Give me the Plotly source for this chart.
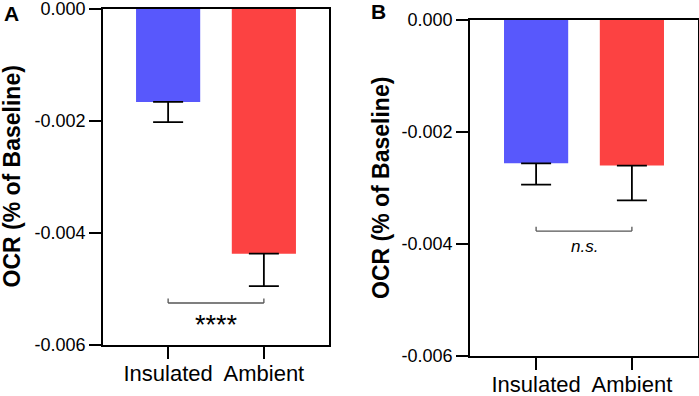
import plotly.graph_objects as go

# ---- data ----
categories = ["Insulated", "Ambient"]
a_means = [-0.00166, -0.00437]
a_sem = [0.00036, 0.00058]
b_means = [-0.00256, -0.00260]
b_sem = [0.00038, 0.00062]
bar_colors = ["#5858FC", "#FC4242"]
y_tickvals = [0.0, -0.002, -0.004, -0.006]
y_ticktext = [f"{v:.3f}" for v in y_tickvals]
sig_a = {"y": -0.00525, "label": "****"}
sig_b = {"y": -0.00377, "label": "<i>n.s.</i>"}

W, H = 699, 396
FONT = "Liberation Sans, Arial, sans-serif"

def px_x(p):
    return p / W

def px_y(p):
    return 1 - p / H

fig = go.Figure()

for i, (means, sem) in enumerate([(a_means, a_sem), (b_means, b_sem)]):
    sfx = "" if i == 0 else "2"
    fig.add_trace(go.Bar(
        x=categories, y=means,
        marker=dict(color=bar_colors, line=dict(width=0)),
        width=0.67,
        error_y=dict(type="data", symmetric=False, array=[0, 0], arrayminus=sem,
                     color="black", thickness=1.8, width=15),
        xaxis="x" + sfx, yaxis="y" + sfx, showlegend=False,
        hoverinfo="skip",
    ))

axis_common = dict(showline=True, linecolor="black", linewidth=1.8, mirror=True,
                   showgrid=False, zeroline=False, ticks="outside",
                   tickcolor="black", tickwidth=1.8, ticklen=12, automargin=False,
                   ticklabeloverflow="allow")

fig.update_layout(
    width=W, height=H, margin=dict(l=0, r=0, t=0, b=0, autoexpand=False),
    paper_bgcolor="white", plot_bgcolor="white",
    font=dict(family=FONT, color="black"),
    bargap=0.33,
    xaxis=dict(domain=[px_x(103), px_x(329)], anchor="y", range=[-0.68, 1.68],
               tickfont=dict(size=22), ticklabelstandoff=-4, **axis_common),
    yaxis=dict(domain=[px_y(345), px_y(9)], anchor="x", range=[-0.006, 0],
               tickvals=y_tickvals, ticktext=y_ticktext, tickfont=dict(size=18),
               **axis_common),
    xaxis2=dict(domain=[px_x(470), px_x(698)], anchor="y2", range=[-0.69, 1.69],
                tickfont=dict(size=22), ticklabelstandoff=-4, **axis_common),
    yaxis2=dict(domain=[px_y(356), px_y(20)], anchor="x2", range=[-0.006, 0],
                tickvals=y_tickvals, ticktext=y_ticktext, tickfont=dict(size=18),
                **axis_common),
)

# significance brackets
tick_h = 0.00008
for sfx, sig in [("", sig_a), ("2", sig_b)]:
    xr, yr = "x" + sfx, "y" + sfx
    y0 = sig["y"]
    for (x0, y_0, x1, y_1) in [(0, y0, 1, y0), (0, y0, 0, y0 + tick_h), (1, y0, 1, y0 + tick_h)]:
        fig.add_shape(type="line", xref=xr, yref=yr, x0=x0, x1=x1, y0=y_0, y1=y_1,
                      line=dict(color="#555555", width=1.3))

fig.add_annotation(x=0.5, y=sig_a["y"], xref="x", yref="y", text=sig_a["label"],
                   showarrow=False, yanchor="top", yshift=-5,
                   font=dict(size=27, family=FONT))
fig.add_annotation(x=0.5, y=sig_b["y"], xref="x2", yref="y2", text=sig_b["label"],
                   showarrow=False, yanchor="top", yshift=-4,
                   font=dict(size=17, family=FONT))

# y-axis titles
for xp, yc in [(11.5, 177), (381, 188)]:
    fig.add_annotation(x=px_x(xp), y=px_y(yc), xref="paper", yref="paper",
                       text="<b>OCR (% of Baseline)</b>", textangle=-90,
                       showarrow=False, xanchor="center", yanchor="middle",
                       font=dict(size=23, family=FONT))

# panel labels
for xp, yp, lab in [(11, 13, "A"), (378, 11, "B")]:
    fig.add_annotation(x=px_x(xp), y=px_y(yp), xref="paper", yref="paper",
                       text=f"<b>{lab}</b>", showarrow=False,
                       xanchor="center", yanchor="middle",
                       font=dict(size=21, family=FONT))

fig.write_html("out.html", config={"displayModeBar": False},
               post_script="document.body.style.margin='0';")
